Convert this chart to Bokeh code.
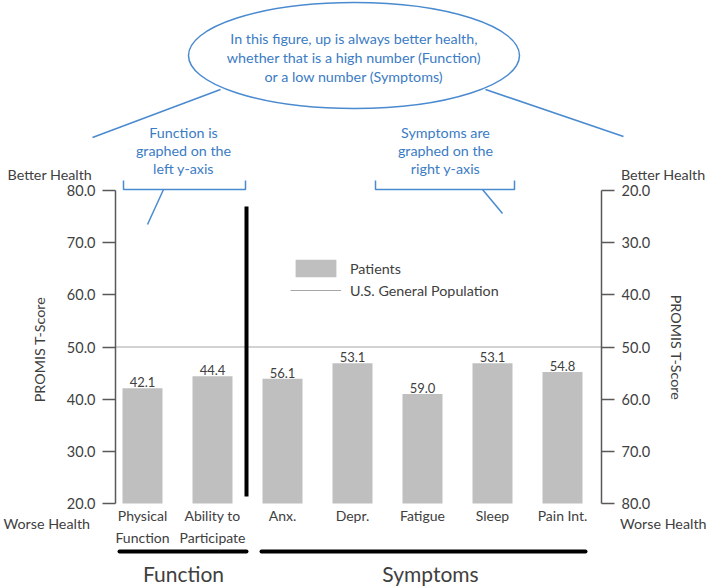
import math
from bokeh.plotting import figure
from bokeh.models import (Range1d, LinearAxis, FixedTicker, PrintfTickFormatter,
                          Legend, LegendItem)
from bokeh.core.properties import value
from bokeh.embed import file_html
from bokeh.resources import INLINE

# ---------------- data ----------------
FUNCTION_LABELS = ["Physical\nFunction", "Ability to\nParticipate"]
SYMPTOM_LABELS = ["Anx.", "Depr.", "Fatigue", "Sleep", "Pain Int."]
FUNCTION_VALUES = [42.1, 44.4]
SYMPTOM_VALUES = [56.1, 53.1, 59.0, 53.1, 54.8]
GEN_POP = 50.0
Y_TICKS = [20, 30, 40, 50, 60, 70, 80]
AXIS_MIN, AXIS_MAX = 20, 80

# ---------------- layout helpers (page pixel anchors) ----------------
W, H = 709, 586
OFF = 0
CAT0, STEP = 142.0, 70.0
Y_TOP, Y_BOT = 190.0, 503.0
S = (Y_BOT - Y_TOP) / (AXIS_MAX - AXIS_MIN)
LEFT_AX, RIGHT_AX = 115.0, 601.0


def X(px):
    return (px - CAT0) / STEP


def Y(py):
    return AXIS_MIN + (Y_BOT - py) / S


FONT_NAME = "Lato"
FONT = value(FONT_NAME)
DARK = "#404040"
BLUE_T = "#3B7CC4"
BLUE_L = "#4A8ACF"
FS = "14.3px"

p = figure(width=W, height=H, output_backend="svg", toolbar_location=None,
           x_range=Range1d(X(OFF), X(OFF + W)),
           y_range=Range1d(Y(OFF + H), Y(OFF)),
           x_axis_location=None, y_axis_location=None, min_border=0)
p.extra_y_ranges = {"inv": Range1d(start=AXIS_MIN + (OFF + H - Y_TOP) / S,
                                   end=AXIS_MIN + (OFF - Y_TOP) / S)}
p.outline_line_color = None
p.xgrid.visible = False
p.ygrid.visible = False
p.background_fill_color = None
p.border_fill_color = "white"

n_f = len(FUNCTION_VALUES)
xf = list(range(n_f))
xs = list(range(n_f, n_f + len(SYMPTOM_VALUES)))
BAR = "#BFBFBF"
bw = 40.0 / STEP

r_bar = p.vbar(x=xf, top=FUNCTION_VALUES, bottom=AXIS_MIN, width=bw,
               fill_color=BAR, line_color=None)
p.vbar(x=xs, top=SYMPTOM_VALUES, bottom=AXIS_MAX, width=bw,
       fill_color=BAR, line_color=None, y_range_name="inv")

# value labels
p.text(x=xf, y=FUNCTION_VALUES, text=[f"{v:.1f}" for v in FUNCTION_VALUES],
       text_align="center", text_baseline="bottom", y_offset=-1,
       text_font=FONT, text_font_size="13px", text_color=DARK)
p.text(x=xs, y=SYMPTOM_VALUES, text=[f"{v:.1f}" for v in SYMPTOM_VALUES],
       text_align="center", text_baseline="bottom", y_offset=-1,
       text_font=FONT, text_font_size="13px", text_color=DARK,
       y_range_name="inv")

# general population line
r_line = p.line(x=[X(LEFT_AX), X(RIGHT_AX)], y=[GEN_POP, GEN_POP],
                line_color="#A6A6A6", line_width=1)

# axes
def style_y(ax):
    ax.ticker = FixedTicker(ticks=Y_TICKS)
    ax.formatter = PrintfTickFormatter(format="%.1f")
    ax.bounds = (AXIS_MIN, AXIS_MAX)
    ax.axis_line_color = "#595959"
    ax.axis_line_width = 1.5
    ax.major_tick_line_color = "#595959"
    ax.major_tick_line_width = 1.5
    ax.major_tick_in = 0
    ax.major_tick_out = 13
    ax.minor_tick_line_color = None
    ax.major_label_text_font = FONT_NAME
    ax.major_label_text_font_size = "14.5px"
    ax.major_label_text_color = DARK
    ax.major_label_standoff = 7

left = LinearAxis(fixed_location=X(LEFT_AX))
style_y(left)
p.add_layout(left, "left")
right = LinearAxis(fixed_location=X(RIGHT_AX), y_range_name="inv")
style_y(right)
p.add_layout(right, "right")

cats = FUNCTION_LABELS + SYMPTOM_LABELS
bottom = LinearAxis(fixed_location=AXIS_MIN,
                    ticker=FixedTicker(ticks=list(range(len(cats)))),
                    major_label_overrides={i: c for i, c in enumerate(cats)})
bottom.axis_line_color = None
bottom.major_tick_line_color = None
bottom.major_tick_in = 0
bottom.major_tick_out = 0
bottom.minor_tick_line_color = None
bottom.major_label_text_font = FONT_NAME
bottom.major_label_text_font_size = "14px"
bottom.major_label_text_color = DARK
bottom.major_label_text_line_height = 1.35
bottom.major_label_standoff = 3
p.add_layout(bottom, "below")

# legend
legend = Legend(items=[LegendItem(label="Patients", renderers=[r_bar]),
                       LegendItem(label="U.S. General Population", renderers=[r_line])],
                location=(290, H - 301), glyph_width=51, glyph_height=22,
                label_standoff=9, spacing=0, padding=0, margin=0,
                border_line_color=None, background_fill_alpha=0,
                label_text_font=FONT_NAME, label_text_font_size=FS,
                label_text_color=DARK)
p.add_layout(legend)

# divider
p.line(x=[X(246), X(246)], y=[Y(206), Y(496)], line_color="black", line_width=4)

# group underlines and group labels
p.line(x=[X(119), X(246)], y=[Y(551), Y(551)], line_color="black", line_width=4, line_cap="round")
p.line(x=[X(261), X(585)], y=[Y(551), Y(551)], line_color="black", line_width=4, line_cap="round")


def txt(px, py, s, size, color, align="center", angle=0.0):
    p.text(x=[X(px)], y=[Y(py)], text=[s], text_align=align, text_baseline="middle",
           text_font=FONT, text_font_size=size, text_color=color, angle=angle)


txt(183, 573, "Function", "21px", DARK)
txt(430, 573, "Symptoms", "21px", DARK)

# side texts
txt(7, 174, "Better Health", FS, DARK, "left")
txt(705, 174, "Better Health", FS, DARK, "right")
txt(3, 523, "Worse Health", FS, DARK, "left")
txt(706, 523, "Worse Health", FS, DARK, "right")
txt(39, 349, "PROMIS T-Score", FS, DARK, angle=math.pi / 2)
txt(676, 347, "PROMIS T-Score", FS, DARK, angle=-math.pi / 2)

# callout ellipse
p.ellipse(x=[X(353.5)], y=[Y(55)], width=331, height=106, width_units="screen",
          height_units="screen", fill_color=None, line_color=BLUE_L, line_width=1.5)
for i, s in enumerate(["In this figure, up is always better health,",
                       "whether that is a high number (Function)",
                       "or a low number (Symptoms)"]):
    txt(353.5, 38 + 19 * i, s, FS, BLUE_T)

for i, s in enumerate(["Function is", "graphed on the", "left y-axis"]):
    txt(183, 132 + 18 * i, s, FS, BLUE_T)
for i, s in enumerate(["Symptoms are", "graphed on the", "right y-axis"]):
    txt(445, 132 + 18 * i, s, FS, BLUE_T)

segs = [
    [(220, 89), (92, 137)],
    [(485, 89), (623, 136)],
    [(123, 180), (123, 189), (245, 189), (245, 180)],
    [(163, 189), (147, 224)],
    [(375, 180), (375, 189), (514, 189), (514, 180)],
    [(482, 189), (502, 213)],
]
p.multi_line(xs=[[X(a) for a, b in s] for s in segs],
             ys=[[Y(b) for a, b in s] for s in segs],
             line_color=BLUE_L, line_width=1.5)

open("out.html", "w").write(file_html(p, INLINE))
